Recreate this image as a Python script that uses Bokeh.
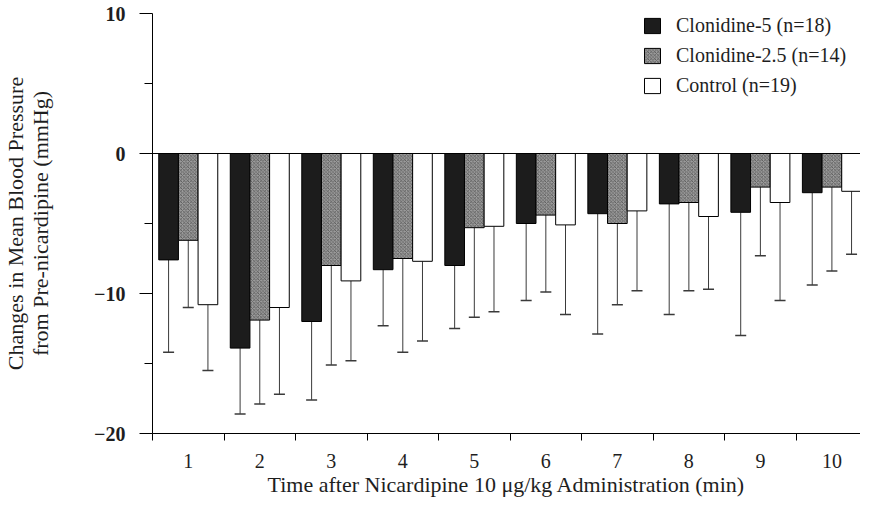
from bokeh.plotting import figure
from bokeh.models import (ColumnDataSource, Whisker, TeeHead, FixedTicker, Span,
                          Legend, LegendItem, CustomJSTickFormatter)
from bokeh.transform import dodge
from bokeh.embed import file_html
from bokeh.resources import INLINE

# ---- data ----
minutes = [1, 2, 3, 4, 5, 6, 7, 8, 9, 10]

clon5_mean = [-7.6, -13.9, -12.0, -8.3, -8.0, -5.0, -4.3, -3.6, -4.2, -2.8]
clon5_sd = [6.6, 4.7, 5.6, 4.0, 4.5, 5.5, 8.6, 7.9, 8.8, 6.6]

clon25_mean = [-6.2, -11.9, -8.0, -7.5, -5.3, -4.4, -5.0, -3.5, -2.4, -2.4]
clon25_sd = [4.8, 6.0, 7.1, 6.7, 6.4, 5.5, 5.8, 6.3, 4.9, 6.0]

control_mean = [-10.8, -11.0, -9.1, -7.7, -5.2, -5.1, -4.1, -4.5, -3.5, -2.7]
control_sd = [4.7, 6.2, 5.7, 5.7, 6.1, 6.4, 5.7, 5.2, 7.0, 4.5]

series_labels = ["Clonidine-5 (n=18)", "Clonidine-2.5 (n=14)", "Control (n=19)"]
y_major = [-20, -10, 0, 10]
y_minor = [-15, -5, 5]

x_title = "Time after Nicardipine 10 \u03bcg/kg Administration (min)"
y_title = "Changes in Mean Blood Pressure\nfrom Pre-nicardipine (mmHg)"

FONT = "Liberation Serif"
INK = "#1e1e1e"

p = figure(width=860, height=499, x_range=(0.5, 10.4), y_range=(-20, 10),
           output_backend="svg", toolbar_location=None,
           min_border_left=150, min_border_right=0, min_border_top=13,
           min_border_bottom=63)
p.outline_line_color = None
p.xgrid.visible = False
p.ygrid.visible = False
p.background_fill_color = "white"
p.border_fill_color = "white"

BW = 0.275
styles = [
    dict(fill_color="#1c1c1c"),
    dict(fill_color="#9c9c9c", hatch_pattern="x", hatch_color="#4a4a4a",
         hatch_scale=3.5, hatch_weight=0.7),
    dict(fill_color="white"),
]
offsets = [-BW, 0.0, BW]
means = [clon5_mean, clon25_mean, control_mean]
sds = [clon5_sd, clon25_sd, control_sd]

renderers = []
for mean, sd, off, st in zip(means, sds, offsets, styles):
    src = ColumnDataSource(dict(
        x=minutes,
        mean=mean,
        upper=mean,
        lower=[m - s for m, s in zip(mean, sd)],
    ))
    r = p.vbar(x=dodge("x", off), top=0, bottom="mean", width=BW, source=src,
               line_color="black", line_width=1, **st)
    renderers.append(r)
    w = Whisker(source=src, base=dodge("x", off), upper="upper", lower="lower",
                dimension="height", line_color="#3a3a3a", line_width=1,
                upper_head=None,
                lower_head=TeeHead(size=11, line_color="#3a3a3a", line_width=1.5))
    p.add_layout(w)

p.add_layout(Span(location=0, dimension="width", line_color="black", line_width=1))

# x axis
p.xaxis.ticker = FixedTicker(ticks=minutes,
                             minor_ticks=[m - 0.5 for m in minutes] + [minutes[-1] + 0.5])
p.xaxis.major_tick_line_color = None
p.xaxis.major_tick_out = 0
p.xaxis.major_tick_in = 0
p.xaxis.minor_tick_out = 7
p.xaxis.minor_tick_in = 0
p.xaxis.minor_tick_line_color = "black"
p.xaxis.major_label_standoff = 13
p.xaxis.major_label_text_font = FONT
p.xaxis.major_label_text_font_size = "20px"
p.xaxis.major_label_text_color = INK
p.xaxis.axis_label = x_title
p.xaxis.axis_label_text_font = FONT
p.xaxis.axis_label_text_font_style = "normal"
p.xaxis.axis_label_text_font_size = "22px"
p.xaxis.axis_label_text_color = INK
p.xaxis.axis_label_standoff = 1
p.xaxis.axis_line_color = "black"

# y axis
p.yaxis.ticker = FixedTicker(ticks=y_major, minor_ticks=y_minor)
p.yaxis.formatter = CustomJSTickFormatter(
    code="return tick < 0 ? '\\u2212' + Math.abs(tick) : String(tick);")
p.yaxis.major_tick_out = 13
p.yaxis.major_tick_in = 0
p.yaxis.minor_tick_out = 8
p.yaxis.minor_tick_in = 0
p.yaxis.major_label_standoff = 14
p.yaxis.major_label_text_font = FONT
p.yaxis.major_label_text_font_style = "bold"
p.yaxis.major_label_text_font_size = "20px"
p.yaxis.major_label_text_color = INK
p.yaxis.axis_label = y_title
p.yaxis.axis_label_text_font = FONT
p.yaxis.axis_label_text_font_style = "normal"
p.yaxis.axis_label_text_font_size = "22px"
p.yaxis.axis_label_text_line_height = 1.0
p.yaxis.axis_label_text_color = INK
p.yaxis.axis_label_standoff = 38
p.yaxis.axis_line_color = "black"

legend = Legend(
    items=[LegendItem(label=lab, renderers=[r]) for lab, r in zip(series_labels, renderers)],
    location=(490, 336), border_line_color=None, background_fill_alpha=0,
    padding=0, margin=0, spacing=7, glyph_width=20, glyph_height=19,
    label_height=23, label_standoff=14, label_text_font=FONT,
    label_text_font_size="20px", label_text_color=INK)
p.add_layout(legend)

open("out.html", "w").write(file_html(p, INLINE))
